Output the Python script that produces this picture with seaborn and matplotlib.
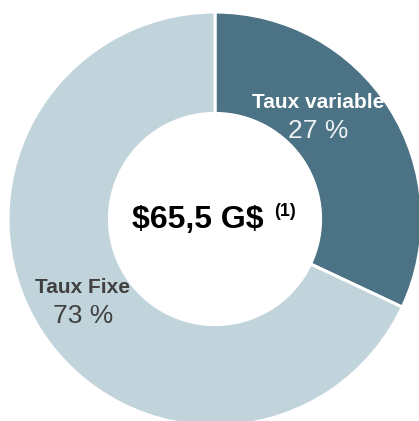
import matplotlib
matplotlib.use("Agg")
import matplotlib.pyplot as plt
import seaborn as sns

# Données du graphique
categories = ["Taux variable", "Taux Fixe"]
# parts telles que dessinées (angle mesuré sur l'image)
parts = [32, 68]
# pourcentages affichés
pct_labels = [27, 73]
total_label = "$65,5 G$"
note = "(1)"

sns.set_theme(style="white")
plt.rcParams['font.family'] = ['Liberation Sans', 'DejaVu Sans']

couleurs = ["#4c7285", "#c2d4db"]

fig = plt.figure(figsize=(4.19, 4.21), dpi=100)
ax = fig.add_axes([0, 0, 1, 1])

ax.pie(parts, colors=couleurs, startangle=90, counterclock=False, radius=1,
       wedgeprops=dict(width=0.49, edgecolor="white", linewidth=2.2))

ax.set_xlim(-1.0386, 0.9855)
ax.set_ylim(-0.9758, 1.058)
ax.set_aspect("equal")
ax.axis("off")

# étiquettes
ax.text(0.498, 0.565, categories[0], ha="center", va="center",
        fontsize=15, fontweight="bold", color="white")
ax.text(0.498, 0.425, f"{pct_labels[0]} %", ha="center", va="center",
        fontsize=19, color="#eef2f4")
ax.text(-0.638, -0.333, categories[1], ha="center", va="center",
        fontsize=15, fontweight="bold", color="#404040")
ax.text(-0.638, -0.469, f"{pct_labels[1]} %", ha="center", va="center",
        fontsize=19, color="#404040")

# total au centre
ax.text(-0.085, -0.005, total_label, ha="center", va="center",
        fontsize=23, fontweight="bold", color="black", parse_math=False)
ax.text(0.338, 0.035, note, ha="center", va="center",
        fontsize=13, fontweight="bold", color="black")

fig.savefig("out.png", dpi=100)
